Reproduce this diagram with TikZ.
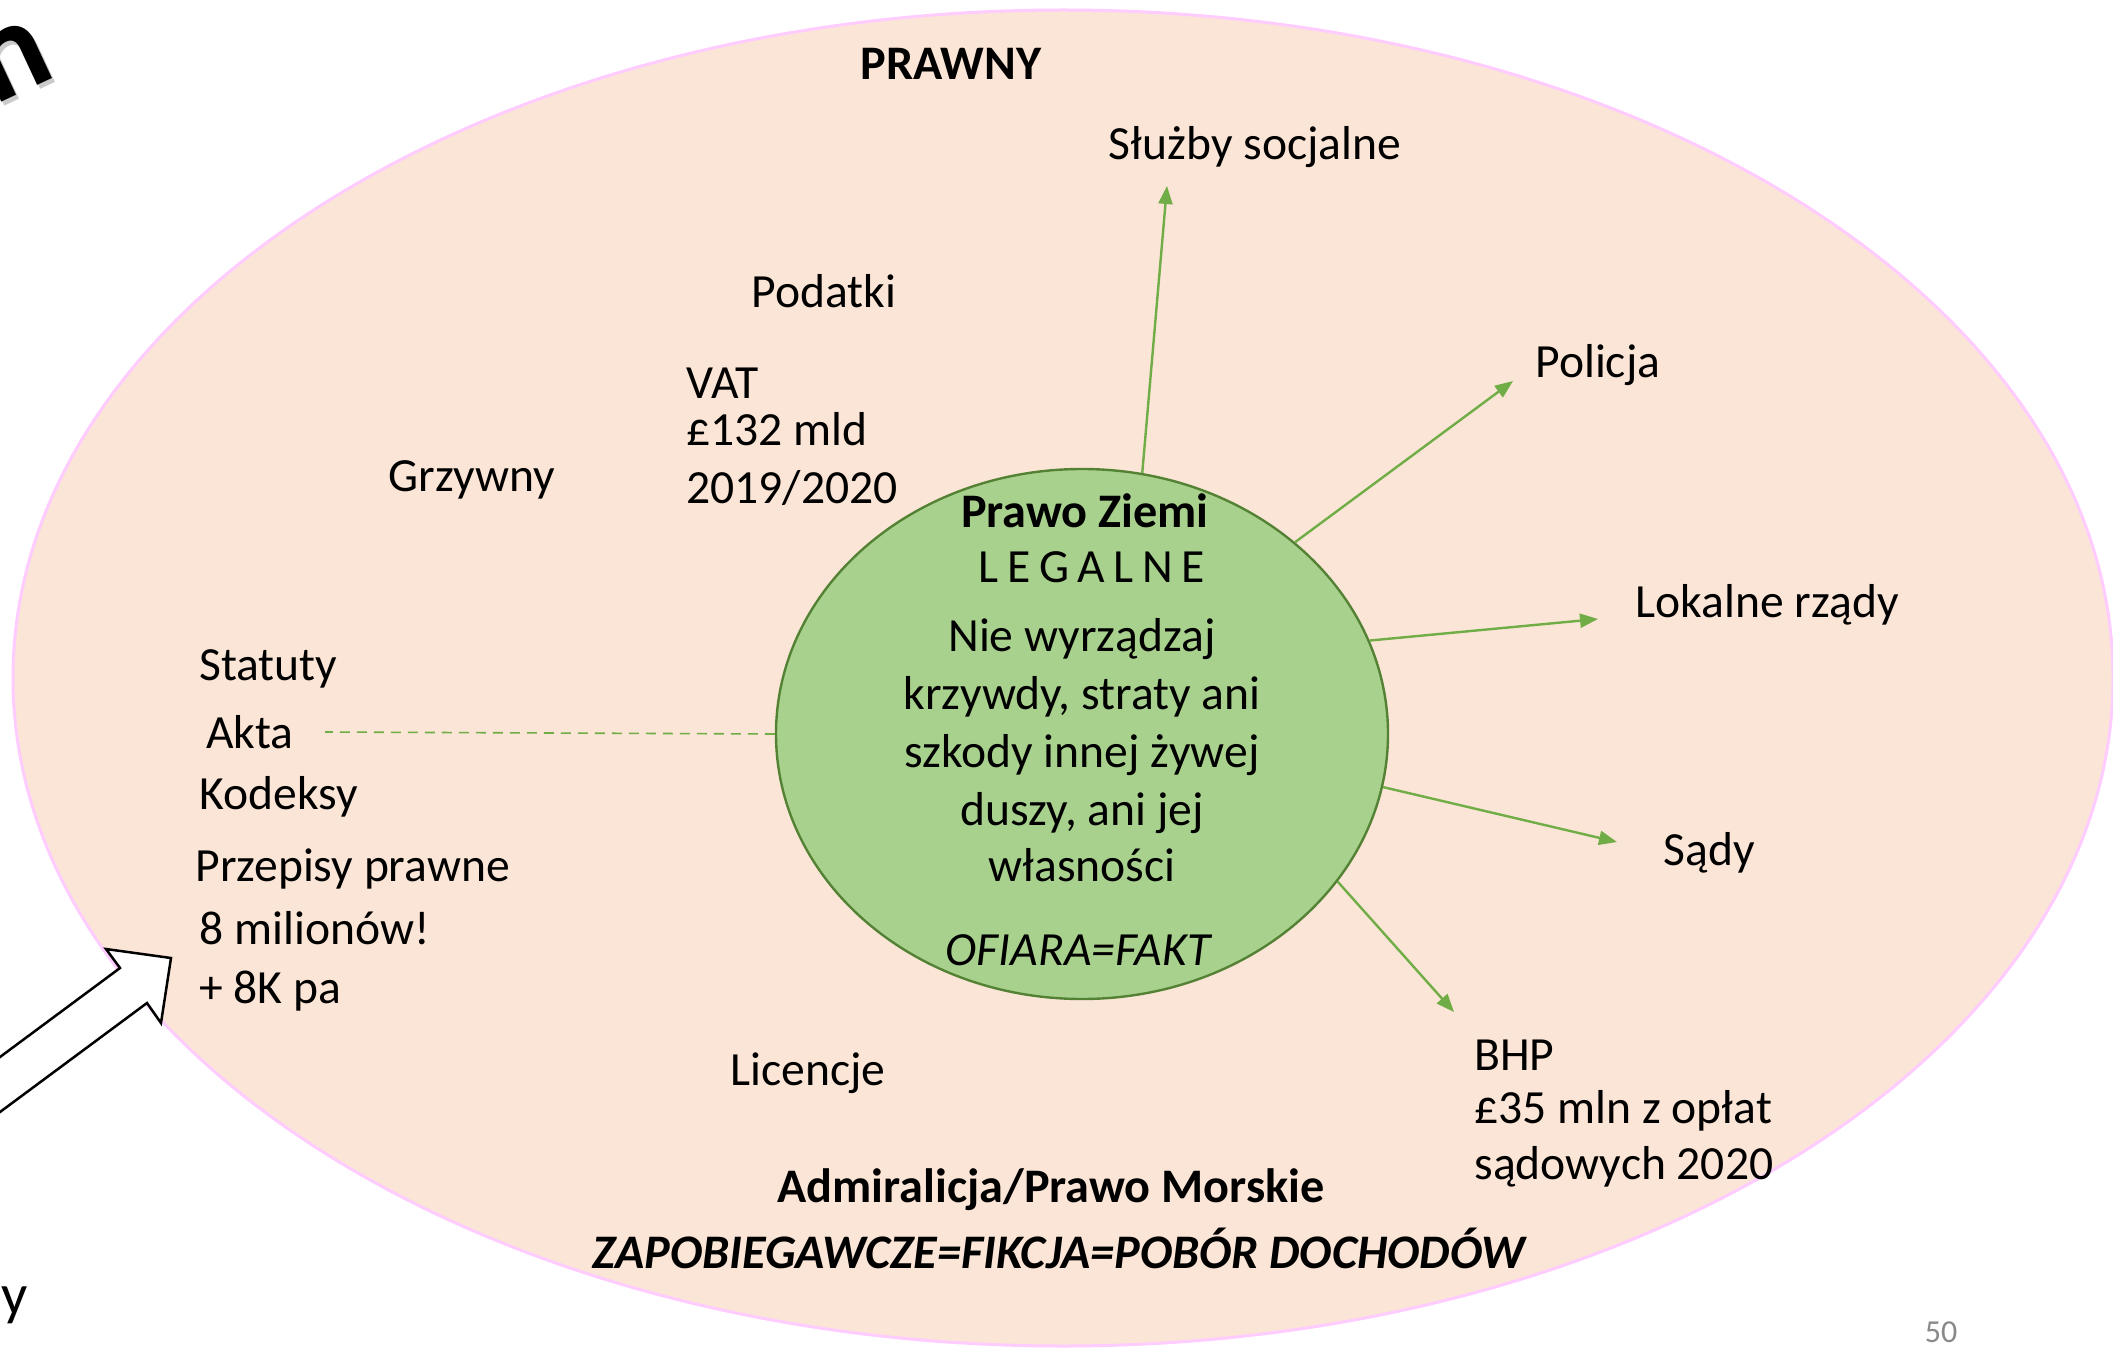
\documentclass[tikz,border=0pt]{standalone}
\usepackage{fontspec}
\setmainfont{Carlito}
\usetikzlibrary{arrows.meta,shapes.geometric}
\definecolor{peach}{HTML}{FBE5D6}
\definecolor{pinkedge}{HTML}{FFCCFF}
\definecolor{leaf}{HTML}{A9D18E}
\definecolor{leafedge}{HTML}{548235}
\definecolor{arrowgreen}{HTML}{70AD47}
\definecolor{pagegray}{HTML}{898989}
\begin{document}
\begin{tikzpicture}[x=0.5pt,y=-0.5pt,
  txt/.style={inner sep=0pt, font=\fontsize{23.8}{28.5}\selectfont},
  lbl/.style={txt, anchor=base west},
  ctr/.style={txt, anchor=base},
  boldtxt/.style={font=\fontsize{24.1}{28.5}\selectfont\bfseries},
  link/.style={draw=arrowgreen, line width=1.2pt, -{Triangle[length=9pt,width=7pt]}},
  dashlink/.style={draw=arrowgreen, line width=0.8pt, dash pattern=on 5pt off 3.5pt},
]
\useasboundingbox (0,0) rectangle (2113,1348);
\fill[white] (0,0) rectangle (2113,1348);
% outer ellipse
\draw[fill=peach, draw=pinkedge, line width=1.5pt] (1063,678) ellipse [x radius=1050, y radius=668];
% inner circle
\node[ellipse, draw=leafedge, fill=leaf, line width=1.2pt, minimum width=306pt, minimum height=265pt, inner sep=0pt] (circ) at (1082,734) {};

% cut-off letters at the left edge
\node[inner sep=0pt, rotate=25, text=black!45, opacity=0.45, font=\fontsize{66}{70}\selectfont\bfseries] (nshadow) at (16,65) {n};
\node[inner sep=0pt, rotate=25, font=\fontsize{66}{70}\selectfont\bfseries] (nletter) at (13,61) {n};
\node[inner sep=0pt, anchor=base east, font=\fontsize{29}{34}\selectfont] (yletter) at (28,1314) {y};

% titles
\node[ctr, boldtxt] (prawny) at (951,80) {PRAWNY};
\node[ctr, boldtxt] (admir) at (1051,1202) {Admiralicja/Prawo Morskie};
\node[ctr, font=\fontsize{24.1}{28.5}\selectfont\bfseries\itshape] (zapob) at (1059,1268) {ZAPOBIEGAWCZE=FIKCJA=POB\'OR DOCHOD\'OW};

% circle text
\node[ctr, boldtxt] (pz) at (1085,527) {Prawo Ziemi};
\node[ctr] (legalne) at (1092,582) {L\kern4.3pt E\kern4.3pt G\kern4.3pt A\kern4.3pt L\kern4.3pt N\kern4.3pt E};
\node[ctr] (c1) at (1082,651) {Nie wyrządzaj};
\node[ctr] (c2) at (1082,709) {krzywdy, straty ani};
\node[ctr] (c3) at (1082,767) {szkody innej żywej};
\node[ctr] (c4) at (1082,825) {duszy, ani jej};
\node[ctr] (c5) at (1082,881) {własności};
\node[ctr, font=\fontsize{23.8}{28.5}\selectfont\itshape] (ofiara) at (1078,965) {OFIARA=FAKT};

% surrounding labels
\node[ctr] (sluzby) at (1255,160) {Służby socjalne};
\node[lbl] (podatki) at (751,307) {Podatki};
\node[lbl] (vat) at (686,398) {VAT};
\node[lbl] (vat2) at (686,445) {£132 mld};
\node[lbl] (vat3) at (686,503) {2019/2020};
\node[lbl] (grzywny) at (388,491) {Grzywny};
\node[lbl] (policja) at (1535,377) {Policja};
\node[lbl] (lokalne) at (1635,617) {Lokalne rządy};
\node[lbl] (sady) at (1663,865) {Sądy};
\node[lbl] (bhp) at (1474,1070) {BHP};
\node[lbl] (bhp2) at (1474,1123) {£35 mln z opłat};
\node[lbl] (bhp3) at (1474,1179) {sądowych 2020};
\node[lbl] (licencje) at (730,1085) {Licencje};
\node[lbl] (statuty) at (199,680) {Statuty};
\node[lbl] (akta) at (206,748) {Akta};
\node[lbl] (kodeksy) at (199,809) {Kodeksy};
\node[lbl] (przepisy) at (195,881) {Przepisy prawne};
\node[lbl] (milionow) at (199,944) {8 milionów!};
\node[lbl] (osiemk) at (199,1003) {+ 8K pa};

% connectors
\coordinate (eS) at (1167,186);
\coordinate (eP) at (1513,381);
\coordinate (eL) at (1598,619);
\coordinate (eD) at (1617,842);
\coordinate (eB) at (1454,1012);
\coordinate (eA) at (325,732);
\draw[link] (circ.77) -- (eS);
\draw[link] (circ.42) -- (eP);
\draw[link] (circ.18) -- (eL);
\draw[link] (circ.-10) -- (eD);
\draw[link] (circ.-30) -- (eB);
\draw[dashlink] (circ.180) -- (eA);

% block arrow
\draw[fill=white, draw=black, line width=1.25pt, line join=miter]
  (-60,1101.5) -- (120,968) -- (106,949) -- (171,958) -- (161,1023) -- (147,1003) -- (-60,1156.5) -- cycle;

% page number
\node[inner sep=0pt, text=pagegray, font=\fontsize{16}{19}\selectfont] (pagenum) at (1941,1332) {50};
\end{tikzpicture}
\end{document}
